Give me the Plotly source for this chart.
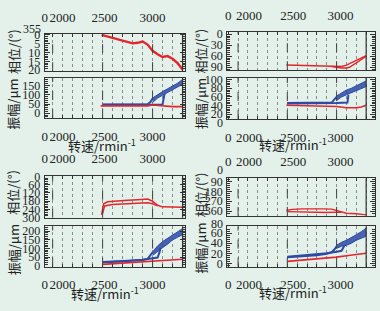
import plotly.graph_objects as go

W, H = 380, 311
BG = "#e3f1ea"
RED = "#e3262b"
BLUE = "#2c4aa6"
BLUE_FILL = "rgba(44,74,166,0.85)"
FRAME = "#333333"
TXT = "#222222"
SERIF = "Liberation Serif"
CJK = "Noto Sans CJK SC"

# ---------------- data ----------------
# x tick labels
x_tick_text = ["0", "2000", "2500", "3000"]
x_tick_pos_left = [1921, 2098, 2520, 3000]
x_tick_pos_right = [1900, 2110, 2560, 3040]
major_rpm = [2000, 2500, 3000]
end_rpm = [3300]

# top-left: phase (deg)
tl_ph_x = [2490, 2520, 2600, 2700, 2800, 2850, 2900, 2950, 3000, 3050, 3100, 3150, 3200, 3250, 3300]
tl_ph_y = [0, 0.5, 1.5, 3.5, 4.8, 4.5, 3.8, 5.5, 9, 11, 12.5, 12, 13.5, 16, 19.5]
# top-left: amplitude (um)
tl_blue_a_x = [2500, 2600, 2700, 2800, 2900, 2950, 2980, 3000]
tl_blue_a_y = [47, 46, 46, 46, 47, 48, 62, 80]
tl_blue_b_x = [2500, 2700, 2900, 3000, 3100, 3110, 3120]
tl_blue_b_y = [46, 45, 45, 46, 48, 90, 105]
tl_band_x = [3000, 3050, 3100, 3150, 3200, 3250, 3300]
tl_band_lo = [58, 82, 97, 112, 127, 142, 157]
tl_band_hi = [82, 102, 117, 132, 147, 162, 182]
tl_red_x = [2480, 2600, 2800, 2950, 3000, 3050, 3100, 3200, 3300]
tl_red_y = [40, 39, 38, 40, 45, 42, 38, 36, 36]

# top-right: phase
tr_ph_a_x = [2490, 2600, 2700, 2800, 2900, 3000, 3050, 3100, 3150, 3200, 3250, 3300]
tr_ph_a_y = [84, 85, 86, 87, 88, 89, 88, 84, 78, 72, 66, 58]
tr_ph_b_x = [2950, 3000, 3050, 3100, 3130, 3200, 3300]
tr_ph_b_y = [88, 91, 92, 92, 90, 78, 60]
# top-right: amplitude
tr_blue_a_x = [2500, 2600, 2700, 2800, 2900, 2950, 2980, 3000]
tr_blue_a_y = [46, 46, 46, 46, 46, 47, 55, 60]
tr_blue_b_x = [2500, 2700, 2900, 3000, 3110, 3120]
tr_blue_b_y = [45, 45, 45, 46, 47, 65]
tr_band_x = [3000, 3050, 3100, 3150, 3200, 3250, 3300]
tr_band_lo = [52, 60, 65, 70, 75, 79, 84]
tr_band_hi = [62, 70, 76, 80, 86, 91, 97]
tr_red_x = [2490, 2700, 2900, 3000, 3100, 3200, 3250, 3300]
tr_red_y = [41, 40, 39, 38, 35, 35, 37, 41]

# bottom-left: phase
bl_ph_a_x = [2490, 2500, 2510, 2550, 2650, 2750, 2850, 2950, 3000, 3050, 3100, 3200, 3300]
bl_ph_a_y = [280, 240, 200, 185, 178, 174, 170, 165, 180, 210, 222, 225, 225]
bl_ph_b_x = [2500, 2520, 2600, 2700, 2800, 2900, 2950, 3000, 3050]
bl_ph_b_y = [270, 215, 205, 200, 198, 195, 192, 200, 215]
# bottom-left: amplitude
bl_blue_a_x = [2500, 2600, 2700, 2800, 2900, 2950, 2980, 3000]
bl_blue_a_y = [22, 24, 27, 30, 34, 40, 60, 78]
bl_blue_b_x = [2500, 2700, 2900, 3000, 3050, 3070, 3080]
bl_blue_b_y = [20, 25, 35, 42, 48, 80, 105]
bl_band_x = [3000, 3050, 3100, 3150, 3200, 3250, 3300]
bl_band_lo = [60, 85, 105, 125, 150, 165, 180]
bl_band_hi = [80, 115, 140, 160, 180, 198, 215]
bl_red_x = [2500, 2600, 2700, 2800, 2900, 3000, 3100, 3200, 3300]
bl_red_y = [8, 12, 16, 20, 24, 30, 34, 36, 38]

# bottom-right: phase
br_ph_a_x = [2490, 2550, 2650, 2750, 2850, 2950, 3000, 3050, 3100, 3200, 3300]
br_ph_a_y = [355, 345, 340, 338, 340, 342, 355, 370, 380, 385, 395]
br_ph_b_x = [2500, 2600, 2700, 2800, 2900, 3000, 3050]
br_ph_b_y = [365, 368, 370, 372, 373, 370, 372]
# bottom-right: amplitude
br_blue_a_x = [2500, 2600, 2700, 2800, 2900, 2950, 2980, 3000]
br_blue_a_y = [12, 13, 15, 16, 19, 22, 28, 34]
br_blue_b_x = [2500, 2700, 2900, 3000, 3050, 3070, 3080]
br_blue_b_y = [13, 16, 20, 23, 25, 32, 36]
br_band_x = [3000, 3050, 3100, 3150, 3200, 3250, 3300]
br_band_lo = [30, 34, 36, 40, 46, 50, 54]
br_band_hi = [36, 42, 46, 51, 57, 63, 70]
br_red_x = [2500, 2600, 2700, 2800, 2900, 3000, 3100, 3200, 3300]
br_red_y = [4, 5.5, 7, 8.5, 10, 12.5, 15, 18, 20]

# y tick values
tl_ph_ticks = [0, 5, 10, 15, 20]
tl_amp_ticks = [0, 50, 100, 150]
tr_ph_ticks = [0, 30, 60, 90]
tr_amp_ticks = [20, 40, 60, 80, 100]
bl_ph_ticks = [0, 60, 120, 180, 240, 300]
bl_amp_ticks = [0, 50, 100, 150, 200]
br_ph_ticks = [90, 180, 270, 360]
br_amp_ticks = [0, 20, 40, 60]

# ---------------- layout config ----------------
# box: (left px, right px, top px, bottom px)
L = dict(xr=(1920, 3320), xt=x_tick_pos_left)
R = dict(xr=(1890, 3390), xt=x_tick_pos_right)
panels = [
    dict(L, box=(42, 183, 29, 68), side="top", yr=(20.5, -0.6), yt=tl_ph_ticks, ym=1),
    dict(L, box=(42, 183, 75, 117), side="bottom", yr=(-26, 191), yt=tl_amp_ticks, ym=10),
    dict(R, box=(226, 375, 27, 67), side="top", yr=(98, -6.5), yt=tr_ph_ticks, ym=5),
    dict(R, box=(226, 375, 75, 118), side="bottom", yr=(9, 104), yt=tr_amp_ticks, ym=4),
    dict(L, box=(42, 183, 177, 221), side="top", yr=(302, -7), yt=bl_ph_ticks, ym=12),
    dict(L, box=(42, 183, 230, 272), side="bottom", yr=(-5, 228), yt=bl_amp_ticks, ym=10),
    dict(R, box=(226, 375, 180, 219), side="top", yr=(404, 62), yt=br_ph_ticks, ym=18),
    dict(R, box=(226, 375, 230, 272), side="bottom", yr=(-6.5, 73.6), yt=br_amp_ticks, ym=4),
]

fig = go.Figure()


def ax(i):
    return ("x" if i == 1 else f"x{i}"), ("y" if i == 1 else f"y{i}")


def line(i, xs, ys, color, width=1.6):
    xa, ya = ax(i)
    fig.add_trace(go.Scatter(x=xs, y=ys, mode="lines", line=dict(color=color, width=width),
                             xaxis=xa, yaxis=ya, showlegend=False, hoverinfo="skip"))


def band(i, xs, lo, hi):
    xa, ya = ax(i)
    fig.add_trace(go.Scatter(x=xs, y=lo, mode="lines", line=dict(color=BLUE, width=1),
                             xaxis=xa, yaxis=ya, showlegend=False, hoverinfo="skip"))
    fig.add_trace(go.Scatter(x=xs, y=hi, mode="lines", line=dict(color=BLUE, width=1), fill="tonexty",
                             fillcolor=BLUE_FILL, xaxis=xa, yaxis=ya, showlegend=False, hoverinfo="skip"))


line(1, tl_ph_x, tl_ph_y, RED, 2.4)
band(2, tl_band_x, tl_band_lo, tl_band_hi)
line(2, tl_blue_a_x, tl_blue_a_y, BLUE, 2)
line(2, tl_blue_b_x, tl_blue_b_y, BLUE, 2)
line(2, tl_red_x, tl_red_y, RED, 1.6)
line(3, tr_ph_a_x, tr_ph_a_y, RED, 1.4)
line(3, tr_ph_b_x, tr_ph_b_y, RED, 1.4)
band(4, tr_band_x, tr_band_lo, tr_band_hi)
line(4, tr_blue_a_x, tr_blue_a_y, BLUE, 2)
line(4, tr_blue_b_x, tr_blue_b_y, BLUE, 2)
line(4, tr_red_x, tr_red_y, RED, 1.6)
line(5, bl_ph_a_x, bl_ph_a_y, RED, 1.5)
line(5, bl_ph_b_x, bl_ph_b_y, RED, 1.5)
band(6, bl_band_x, bl_band_lo, bl_band_hi)
line(6, bl_blue_a_x, bl_blue_a_y, BLUE, 2)
line(6, bl_blue_b_x, bl_blue_b_y, BLUE, 2)
line(6, bl_red_x, bl_red_y, RED, 1.6)
line(7, br_ph_a_x, br_ph_a_y, RED, 1.4)
line(7, br_ph_b_x, br_ph_b_y, RED, 1.4)
band(8, br_band_x, br_band_lo, br_band_hi)
line(8, br_blue_a_x, br_blue_a_y, BLUE, 2)
line(8, br_blue_b_x, br_blue_b_y, BLUE, 2)
line(8, br_red_x, br_red_y, RED, 1.6)

layout = dict(
    width=W, height=H, margin=dict(l=0, r=0, t=0, b=0),
    paper_bgcolor=BG, plot_bgcolor=BG, showlegend=False,
    font=dict(family=SERIF, size=12, color=TXT),
)
shapes = []
for i, p in enumerate(panels, start=1):
    x0, x1, y0, y1 = p["box"]
    xa, ya = ax(i)
    kx = "xaxis" if i == 1 else f"xaxis{i}"
    ky = "yaxis" if i == 1 else f"yaxis{i}"
    layout[kx] = dict(
        domain=[x0 / W, x1 / W], anchor=ya, range=list(p["xr"]), side=p["side"],
        showline=True, mirror=True, linecolor=FRAME, linewidth=1,
        tickmode="array", tickvals=p["xt"], ticktext=x_tick_text, ticks="",
        tickangle=0, ticklabelstandoff=6,
        tickfont=dict(family=SERIF, size=13, color=TXT),
        showgrid=False, zeroline=False,
        minor=dict(tick0=0, dtick=100, showgrid=True, griddash="dot", gridcolor="#8c8c8c", gridwidth=1,
                   ticks="inside", ticklen=3, tickcolor=FRAME),
    )
    layout[ky] = dict(
        domain=[1 - y1 / H, 1 - y0 / H], anchor=xa, range=list(p["yr"]),
        showline=True, mirror="ticks", linecolor=FRAME, linewidth=1,
        tickmode="array", tickvals=p["yt"], ticks="inside", ticklen=5, tickcolor=FRAME,
        tickangle=0, tickfont=dict(family=SERIF, size=12, color=TXT), ticklabelstandoff=1,
        showgrid=False, zeroline=False,
        minor=dict(dtick=p["ym"], ticks="inside", ticklen=3, tickcolor=FRAME, showgrid=False),
    )
    for r in major_rpm:
        shapes.append(dict(type="line", xref=xa, yref=f"{ya} domain", x0=r, x1=r, y0=0, y1=1,
                           line=dict(color="#444444", width=1, dash="dash")))
    for r in end_rpm:
        shapes.append(dict(type="line", xref=xa, yref=f"{ya} domain", x0=r, x1=r, y0=0, y1=1,
                           line=dict(color=FRAME, width=1.2)))
layout["shapes"] = shapes

ann = []


def txt(text, xp, yp, size=13, angle=0, family=CJK, xanchor="center"):
    ann.append(dict(text=text, x=xp / W, y=1 - yp / H, xref="paper", yref="paper", showarrow=False,
                    textangle=angle, font=dict(family=family, size=size, color=TXT),
                    xanchor=xanchor, yanchor="middle"))


PH = "相位/(°)"
AMP = "振幅/μm"
SPD = "转速/rmin<sup>-1</sup>"
txt(PH, 10, 47, angle=-90)
txt(AMP, 10, 102, angle=-90)
txt(PH, 199, 47, angle=-90)
txt(AMP, 199, 102, angle=-90)
txt(PH, 10, 194, angle=-90)
txt(AMP, 10, 254, angle=-90)
txt(PH, 199, 197, angle=-90)
txt(AMP, 199, 253, angle=-90)
txt(SPD, 100, 145)
txt(SPD, 292, 144)
txt(SPD, 103, 299)
txt(SPD, 292, 298)
# out-of-range end labels on some y axes
txt("355", 40, 24, size=12, family=SERIF, xanchor="right")
txt("0", 224, 122, size=12, family=SERIF, xanchor="right")
txt("0", 224, 171, size=12, family=SERIF, xanchor="right")
txt("80", 224, 227, size=12, family=SERIF, xanchor="right")
layout["annotations"] = ann

fig.update_layout(**layout)
fig.write_html("out.html", config={"displayModeBar": False},
               post_script="document.body.style.margin='0px';document.body.style.overflow='hidden';")
